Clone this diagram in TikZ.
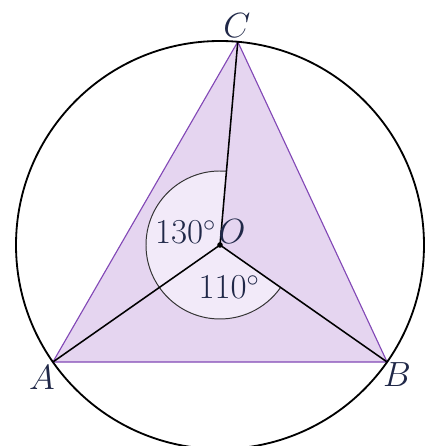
\documentclass[tikz,border=0pt]{standalone}
\usepackage{amsmath}
\usetikzlibrary{calc}
\definecolor{lila}{RGB}{229,213,240}
\definecolor{lilavil}{RGB}{242,234,249}
\definecolor{lilael}{RGB}{130,72,182}
\definecolor{felirat}{RGB}{32,40,72}
\tikzset{
  pont/.style={circle,fill,inner sep=1.4pt},
  cimke/.style={text=felirat,inner sep=0pt,font=\fontsize{26}{30}\selectfont},
  sugar/.style={line width=1.1pt},
  kor/.style={line width=1.3pt},
  oldal/.style={draw=lilael,line width=0.8pt,fill=lila},
  iv/.style={draw=black!80,line width=0.7pt},
}

\begin{document}
\begin{tikzpicture}
  \useasboundingbox (-5.5,-5.025) rectangle (5.175,6.125);
  \clip (-5.5,-5.025) rectangle (5.175,6.125);
  \coordinate (O) at (0,0);
  \foreach \n/\szog in {C/85,A/215,B/325}
    \coordinate (\n) at (\szog:5.1);
  % haromszog es szogtartomany
  \filldraw[oldal] (A) -- (B) -- (C) -- cycle;
  \fill[lilavil] (O) -- (85:1.85) arc[start angle=85,end angle=325,radius=1.85] -- cycle;
  \draw[iv] (85:1.85) arc[start angle=85,end angle=325,radius=1.85];
  \draw[kor] (O) circle (5.1);
  \foreach \n in {A,B,C} \draw[sugar] (O) -- (\n);
  \node[pont] (o) at (O) {};
  % feliratok
  \node[cimke] (lC) at (0.425,5.475) {$C$};
  \node[cimke] (lA) at (-4.45,-3.325) {$A$};
  \node[cimke] (lB) at (4.425,-3.25) {$B$};
  \node[cimke] (lO) at (0.3,0.325) {$O$};
  \node[cimke] (sz1) at (-0.86,0.325) {$130^\circ$};
  \node[cimke] (sz2) at (0.225,-1.05) {$110^\circ$};
\end{tikzpicture}
\end{document}
